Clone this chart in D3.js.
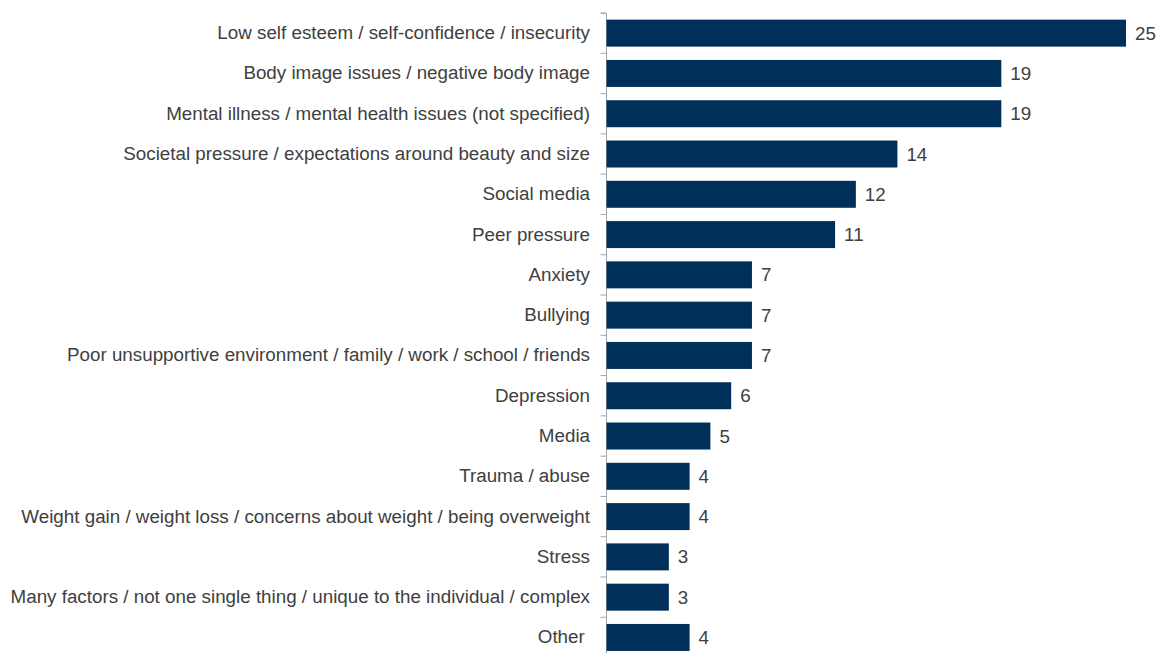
<!DOCTYPE html>
<html>
<head>
<meta charset="utf-8">
<script src="https://cdn.jsdelivr.net/npm/d3@7"></script>
<style>
  html, body { margin: 0; padding: 0; background: #ffffff; }
  svg { display: block; }
  text { font-family: "Liberation Sans", Arial, sans-serif; fill: #404040; white-space: pre; }
</style>
</head>
<body>
<svg id="chart" width="1162" height="653"></svg>
<script>
const categories = [
  "Low self esteem / self-confidence / insecurity",
  "Body image issues / negative body image",
  "Mental illness / mental health issues (not specified)",
  "Societal pressure / expectations around beauty and size",
  "Social media",
  "Peer pressure",
  "Anxiety",
  "Bullying",
  "Poor unsupportive environment / family / work / school / friends",
  "Depression",
  "Media",
  "Trauma / abuse",
  "Weight gain / weight loss / concerns about weight / being overweight",
  "Stress",
  "Many factors / not one single thing / unique to the individual / complex",
  "Other "
];
const values = [25, 19, 19, 14, 12, 11, 7, 7, 7, 6, 5, 4, 4, 3, 3, 4];

const svg = d3.select("#chart");
const x0 = 606.5;
const fontSize = "18.8px";

const x = d3.scaleLinear().domain([0, 25]).range([x0, 1126]);
const y = d3.scaleBand().domain(categories).range([13, 657.6]).paddingInner(0.33).paddingOuter(0.165);

// category axis on the left of the bars
const axis = d3.axisLeft(y).tickSize(5).tickSizeOuter(5).tickPadding(11).tickFormat(d => d);
const g = svg.append("g").attr("transform", `translate(${x0 - 0.5},0)`).call(axis);
g.select(".domain").attr("stroke", "#a6a6a6");
g.selectAll(".tick line").remove();
g.selectAll(".tick text").style("font-size", fontSize).attr("fill", "#404040");

// tick marks sit on the band boundaries
const bounds = d3.range(categories.length + 1).map(i => y.range()[0] + i * y.step());
svg.append("g").selectAll("line").data(bounds).join("line")
  .attr("x1", x0 - 6).attr("x2", x0 - 0.5)
  .attr("y1", d => d).attr("y2", d => d)
  .attr("stroke", "#a6a6a6");

svg.append("g").selectAll("rect").data(values).join("rect")
  .attr("x", x0)
  .attr("y", (d, i) => y(categories[i]))
  .attr("width", d => x(d) - x0)
  .attr("height", y.bandwidth())
  .attr("fill", "#00305a");

svg.append("g").selectAll("text").data(values).join("text")
  .attr("x", d => x(d) + 9)
  .attr("y", (d, i) => y(categories[i]) + y.bandwidth() / 2)
  .attr("dy", "0.35em")
  .style("font-size", fontSize)
  .text(d => d);
</script>
</body>
</html>
